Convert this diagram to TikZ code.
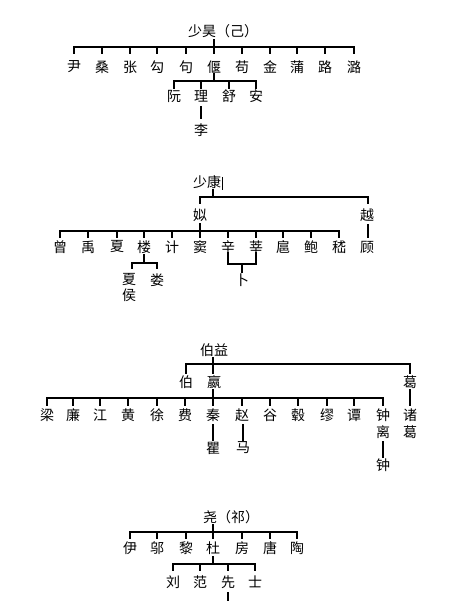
\documentclass[tikz,border=0pt]{standalone}
\usepackage{fontspec}
\setmainfont{Noto Sans CJK SC}
\begin{document}
\begin{tikzpicture}[x=1pt,y=-1pt,
  n/.style={inner sep=0pt,font=\fontsize{14}{15}\selectfont},
  tree/.style={line width=2.4pt,line cap=rect},
  thin/.style={line width=0.8pt}]
\useasboundingbox[fill=white] (0,0) rectangle (471,601);
% ---------- Section 1 ----------
\node[n] (r1) at (223,31) {少昊（己）};
\coordinate (r1s) at (214,40);
\foreach \name/\t/\x in {a1/尹/74,a2/桑/102,a3/张/130,a4/勾/157,a5/句/186,a6/偃/214,a7/苟/242,a8/金/270,a9/蒲/297,a10/路/325,a11/潞/354}
  \node[n] (\name) at (\x,67) {\t};
\draw[tree] (r1s) -- (r1s |- 0,47);
\draw[tree] (a1 |- 0,47) -- (a11 |- 0,47);
\foreach \name in {a1,a2,a3,a4,a5,a6,a7,a8,a9,a10,a11}
  \draw[tree] (\name |- 0,47) -- (\name |- 0,53);
\foreach \name/\t/\x in {b1/阮/174,b2/理/201,b3/舒/229,b4/安/256}
  \node[n] (\name) at (\x,96) {\t};
\draw[tree] (a6 |- 0,74) -- (a6 |- 0,81);
\draw[tree] (b1 |- 0,81) -- (b4 |- 0,81);
\foreach \name in {b1,b2,b3,b4}
  \draw[tree] (\name |- 0,81) -- (\name |- 0,88);
\node[n] (c1) at (201,130) {李};
\draw[tree] (b2 |- 0,107) -- (c1 |- 0,118);
% ---------- Section 2 ----------
\node[n] (r2) at (207,182) {少康};
\draw[thin] (222,177) -- (222,190);
\coordinate (r2s) at (213,190);
\node[n] (d1) at (200,215) {姒};
\node[n] (d2) at (367,215) {越};
\draw[tree] (r2s) -- (r2s |- 0,197);
\draw[tree] (d1 |- 0,197) -- (368,197);
\draw[tree] (d1 |- 0,197) -- (d1 |- 0,203);
\draw[tree] (368,197) -- (368,203);
\foreach \name/\t/\x in {e1/曾/60,e2/禹/88,e3/夏/117,e4/楼/144,e5/计/172,e6/窦/200,e7/辛/228,e8/莘/256,e9/扈/283,e10/鲍/311,e11/嵇/339}
  \node[n] (\name) at (\x,247) {\t};
\node[n] (e12) at (367,247) {顾};
\draw[tree] (d1 |- 0,224) -- (d1 |- 0,231);
\draw[tree] (e1 |- 0,231) -- (e11 |- 0,231);
\foreach \name in {e1,e2,e3,e4,e5,e6,e7,e8,e9,e10,e11}
  \draw[tree] (\name |- 0,231) -- (\name |- 0,237);
\draw[tree] (368,225) -- (368,237);
% 楼 branch
\node[n] (f1) at (129,280) {夏};
\node[n] (f1b) at (129,295) {侯};
\node[n] (f2) at (157,280) {娄};
\draw[tree] (e4 |- 0,255) -- (e4 |- 0,263);
\draw[tree] (132,263) -- (f2 |- 0,263);
\draw[tree] (132,263) -- (132,268);
\draw[tree] (f2 |- 0,263) -- (f2 |- 0,268);
% 辛 莘 -> 卜
\node[n] (g1) at (242,280) {卜};
\draw[tree] (e7 |- 0,253) -- (e7 |- 0,264) -- (e8 |- 0,264) -- (e8 |- 0,253);
\draw[tree] (g1 |- 0,264) -- (g1 |- 0,272);
% ---------- Section 3 ----------
\node[n] (r3) at (214,350) {伯益};
\coordinate (r3s) at (213,358);
\node[n] (h1) at (186,382) {伯};
\node[n] (h2) at (214,382) {嬴};
\node[n] (h3) at (410,382) {葛};
\draw[tree] (r3s) -- (r3s |- 0,373);
\draw[tree] (h1 |- 0,364) -- (h3 |- 0,364);
\draw[tree] (h1 |- 0,364) -- (h1 |- 0,373);
\draw[tree] (h3 |- 0,364) -- (h3 |- 0,373);
\foreach \name/\t/\x in {i1/梁/47,i2/廉/73,i3/江/100,i4/黄/128,i5/徐/157,i6/费/185,i7/秦/213,i8/赵/242,i9/谷/270,i10/毂/298,i11/缪/327,i12/谭/354,i13/钟/383}
  \node[n] (\name) at (\x,415) {\t};
\node[n] (i13b) at (383,432) {离};
\node[n] (i14) at (410,415) {诸};
\node[n] (i14b) at (410,432) {葛};
\draw[tree] (r3s |- 0,390) -- (r3s |- 0,398);
\draw[tree] (i1 |- 0,398) -- (i13 |- 0,398);
\foreach \name in {i1,i2,i3,i4,i5,i6,i7,i8,i9,i10,i11,i12,i13}
  \draw[tree] (\name |- 0,398) -- (\name |- 0,405);
\draw[tree] (h3 |- 0,390) -- (i14 |- 0,405);
\node[n] (j1) at (213,448) {瞿};
\node[n] (j2) at (243,448) {马};
\node[n] (j3) at (383,465) {钟};
\draw[tree] (i7 |- 0,425) -- (j1 |- 0,440);
\draw[tree] (j2 |- 0,425) -- (j2 |- 0,440);
\draw[tree] (i13b |- 0,442) -- (j3 |- 0,457);
% ---------- Section 4 ----------
\node[n] (r4) at (231,517) {尧（祁）};
\coordinate (r4s) at (213,525);
\foreach \name/\t/\x in {k1/伊/130,k2/邬/157,k3/黎/186,k4/杜/213,k5/房/242,k6/唐/270,k7/陶/297}
  \node[n] (\name) at (\x,548) {\t};
\draw[tree] (r4s) -- (r4s |- 0,532);
\draw[tree] (k1 |- 0,532) -- (k7 |- 0,532);
\foreach \name in {k1,k2,k3,k4,k5,k6,k7}
  \draw[tree] (\name |- 0,532) -- (\name |- 0,538);
\foreach \name/\t/\x in {l1/刘/173,l2/范/200,l3/先/228,l4/士/255}
  \node[n] (\name) at (\x,582) {\t};
\draw[tree] (k4 |- 0,557) -- (k4 |- 0,564);
\draw[tree] (l1 |- 0,564) -- (l4 |- 0,564);
\foreach \name in {l1,l2,l3,l4}
  \draw[tree] (\name |- 0,564) -- (\name |- 0,570);
\coordinate (bot) at (228,601);
\draw[tree,line cap=butt] (l3 |- 0,592) -- (bot);
\end{tikzpicture}
\end{document}
